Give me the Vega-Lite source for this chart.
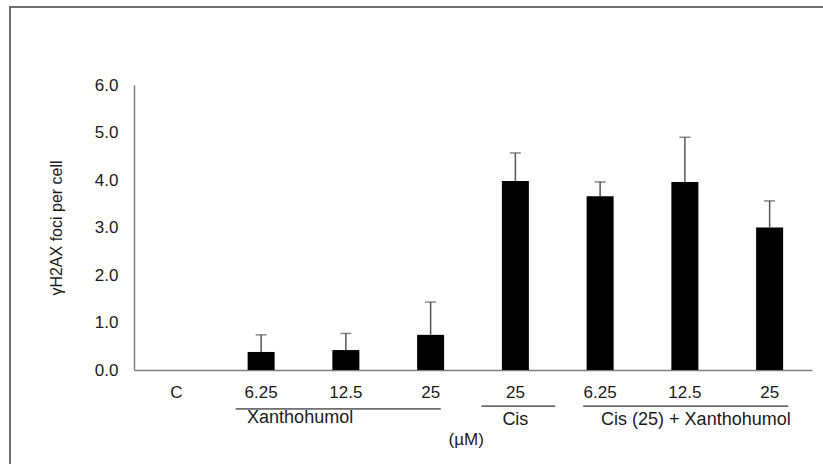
{
  "$schema": "https://vega.github.io/schema/vega-lite/v6.json",
  "width": 678,
  "height": 285,
  "autosize": {"type": "none"},
  "padding": {"left": 134, "top": 85, "right": 11, "bottom": 94},
  "config": {
    "view": {"stroke": null},
    "font": "Liberation Sans",
    "axis": {"grid": false, "ticks": false, "domainColor": "#808080", "domainWidth": 1.5, "labelColor": "#1a1a1a", "labelFont": "Liberation Sans", "titleFont": "Liberation Sans", "titleFontWeight": "normal", "titleColor": "#1a1a1a"}
  },
  "data": {"values": [
    {"id": "C", "mean": 0, "upper": null},
    {"id": "6.25", "mean": 0.38, "upper": 0.74},
    {"id": "12.5", "mean": 0.42, "upper": 0.77},
    {"id": "25", "mean": 0.74, "upper": 1.43},
    {"id": "25 ", "mean": 3.98, "upper": 4.57},
    {"id": "6.25 ", "mean": 3.66, "upper": 3.96},
    {"id": "12.5 ", "mean": 3.96, "upper": 4.9},
    {"id": "25  ", "mean": 3.0, "upper": 3.56}
  ]},
  "layer": [
    {
      "mark": {"type": "bar", "color": "#000000", "size": 27},
      "encoding": {
        "x": {"field": "id", "type": "nominal", "sort": null,
          "scale": {"domain": ["C", "6.25", "12.5", "25", "25 ", "6.25 ", "12.5 ", "25  "], "paddingInner": 0, "paddingOuter": 0},
          "axis": {"title": null, "labelAngle": 0, "labelFontSize": 17, "labelPadding": 14, "labelExpr": "trim(datum.label)"}},
        "y": {"field": "mean", "type": "quantitative", "scale": {"domain": [0, 6]},
          "axis": {"title": "γH2AX foci per cell", "values": [0, 1, 2, 3, 4, 5, 6], "format": ".1f", "labelFontSize": 17, "labelPadding": 16, "titleFontSize": 16, "titlePadding": 30}}
      }
    },
    {
      "transform": [{"filter": "datum.upper != null"}],
      "mark": {"type": "rule", "color": "#555555", "strokeWidth": 1.5},
      "encoding": {
        "x": {"field": "id", "type": "nominal", "sort": null},
        "y": {"field": "mean", "type": "quantitative"},
        "y2": {"field": "upper"}
      }
    },
    {
      "transform": [{"filter": "datum.upper != null"}],
      "mark": {"type": "tick", "color": "#555555", "thickness": 1.5, "size": 11},
      "encoding": {
        "x": {"field": "id", "type": "nominal", "sort": null},
        "y": {"field": "upper", "type": "quantitative"}
      }
    },
    {
      "data": {"values": [{"a": "6.25", "b": "25", "y": -0.82}]},
      "mark": {"type": "rule", "color": "#000000", "strokeWidth": 1, "clip": false},
      "encoding": {
        "x": {"field": "a", "type": "nominal", "bandPosition": 0.2},
        "x2": {"field": "b", "bandPosition": 0.62},
        "y": {"field": "y", "type": "quantitative"}
      }
    },
    {
      "data": {"values": [{"a": "25 ", "b": "25 ", "y": -0.76}]},
      "mark": {"type": "rule", "color": "#000000", "strokeWidth": 1, "clip": false},
      "encoding": {
        "x": {"field": "a", "type": "nominal", "bandPosition": 0.1},
        "x2": {"field": "b", "bandPosition": 0.97},
        "y": {"field": "y", "type": "quantitative"}
      }
    },
    {
      "data": {"values": [{"a": "6.25 ", "b": "25  ", "y": -0.76}]},
      "mark": {"type": "rule", "color": "#000000", "strokeWidth": 1, "clip": false},
      "encoding": {
        "x": {"field": "a", "type": "nominal", "bandPosition": 0.3},
        "x2": {"field": "b", "bandPosition": 0.72},
        "y": {"field": "y", "type": "quantitative"}
      }
    },
    {
      "data": {"values": [{"a": "6.25", "y": -1.02, "t": "Xanthohumol"}]},
      "mark": {"type": "text", "fontSize": 18, "color": "#1a1a1a", "baseline": "middle", "align": "center", "clip": false},
      "encoding": {
        "x": {"field": "a", "type": "nominal", "bandPosition": 0.96},
        "y": {"field": "y", "type": "quantitative"},
        "text": {"field": "t"}
      }
    },
    {
      "data": {"values": [{"a": "25 ", "y": -1.06, "t": "Cis"}]},
      "mark": {"type": "text", "fontSize": 18, "color": "#1a1a1a", "baseline": "middle", "align": "center", "clip": false},
      "encoding": {
        "x": {"field": "a", "type": "nominal", "bandPosition": 0.5},
        "y": {"field": "y", "type": "quantitative"},
        "text": {"field": "t"}
      }
    },
    {
      "data": {"values": [{"a": "12.5 ", "y": -1.06, "t": "Cis (25) + Xanthohumol"}]},
      "mark": {"type": "text", "fontSize": 18, "color": "#1a1a1a", "baseline": "middle", "align": "center", "clip": false},
      "encoding": {
        "x": {"field": "a", "type": "nominal", "bandPosition": 0.63},
        "y": {"field": "y", "type": "quantitative"},
        "text": {"field": "t"}
      }
    },
    {
      "data": {"values": [{"a": "25", "y": -1.47, "t": "(µM)"}]},
      "mark": {"type": "text", "fontSize": 17, "color": "#1a1a1a", "baseline": "middle", "align": "center", "clip": false},
      "encoding": {
        "x": {"field": "a", "type": "nominal", "bandPosition": 0.92},
        "y": {"field": "y", "type": "quantitative"},
        "text": {"field": "t"}
      }
    },
    {
      "data": {"values": [{"a": "C", "b": "25  ", "y": 7.64, "y2": -3}]},
      "mark": {"type": "rect", "fill": null, "stroke": "#707070", "strokeWidth": 2, "clip": false},
      "encoding": {
        "x": {"field": "a", "type": "nominal", "bandPosition": -1.463},
        "x2": {"field": "b", "bandPosition": 1.5},
        "y": {"field": "y", "type": "quantitative"},
        "y2": {"field": "y2"}
      }
    }
  ]
}
